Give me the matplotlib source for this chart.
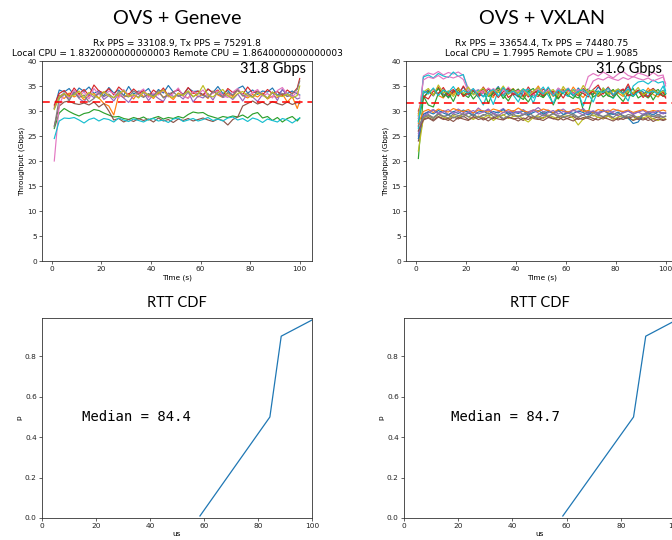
import matplotlib
matplotlib.use("Agg")
import matplotlib.pyplot as plt

# time axis of the iperf runs (sampled every 2 s)
TIME_S = list(range(1, 100, 2)) + [100]

# ---- OVS + Geneve, per-stream throughput (Gbps) ----
GEN_BLUE = [30.5, 34.2, 33.8, 34.5, 33.2, 34.6, 33.9, 34.8, 33.5, 34.1,
            33.0, 34.7, 33.6, 34.2, 33.1, 34.9, 33.4, 34.0, 33.7, 34.5,
            32.9, 34.3, 33.6, 35.1, 33.8, 34.2, 33.3, 34.6, 33.9, 34.0,
            33.2, 34.4, 33.7, 34.9, 33.5, 34.1, 33.0, 34.5, 35.0, 33.6,
            34.2, 33.3, 34.0, 33.8, 34.6, 33.1, 34.2, 33.5, 34.0, 33.4,
            33.2]
GEN_ORANGE = [30.8, 33.1, 32.5, 33.6, 32.8, 33.4, 32.2, 33.0, 33.5, 32.6,
              31.5, 31.0, 29.2, 33.2, 32.7, 33.5, 32.4, 33.8, 32.9, 33.3,
              32.5, 33.7, 32.8, 33.1, 32.3, 33.6, 33.0, 32.6, 33.9, 32.8,
              33.4, 32.5, 34.0, 33.2, 32.7, 33.5, 32.9, 34.2, 33.1, 32.6,
              33.3, 32.8, 33.6, 32.4, 33.0, 32.7, 33.4, 31.8, 32.9, 30.5,
              32.0]
GEN_GREEN = [26.5, 29.6, 30.5, 29.9, 29.4, 29.0, 29.5, 29.7, 30.3, 30.1,
             29.6, 29.2, 28.8, 28.9, 28.5, 28.3, 28.7, 28.4, 28.8, 28.2,
             28.6, 28.9, 28.4, 28.7, 28.5, 28.9, 28.6, 29.3, 29.8, 29.6,
             29.7, 29.1, 28.8, 28.5, 28.9, 28.7, 29.0, 28.8, 29.2, 28.6,
             29.4, 29.7, 28.6, 28.9, 28.1, 28.7, 27.8, 28.5, 28.9, 28.0,
             28.6]
GEN_RED = [31.2, 33.5, 34.1, 33.0, 34.6, 33.4, 34.3, 33.1, 35.2, 34.0,
           33.6, 34.5, 33.2, 34.8, 33.9, 33.3, 34.4, 33.5, 34.1, 32.9,
           34.2, 33.4, 34.6, 33.0, 33.8, 34.3, 33.2, 34.7, 33.5, 34.0,
           33.1, 34.4, 33.6, 34.2, 33.0, 34.5, 33.7, 34.1, 33.3, 34.8,
           33.6, 34.0, 33.2, 34.3, 33.5, 33.9, 33.1, 34.2, 33.4, 34.6,
           36.5]
GEN_PURPLE = [30.5, 32.9, 33.6, 32.2, 33.8, 32.5, 31.8, 33.4, 32.7, 33.9,
              32.3, 33.1, 32.0, 33.5, 32.6, 31.7, 33.2, 32.8, 33.7, 32.1,
              33.3, 32.5, 31.9, 33.6, 32.9, 33.2, 32.4, 33.8, 31.8, 33.0,
              32.6, 33.5, 32.2, 33.9, 32.7, 33.1, 32.3, 33.4, 32.0, 33.6,
              32.8, 31.9, 33.3, 32.5, 33.7, 32.1, 34.4, 32.9, 33.2, 32.4,
              32.6]
GEN_BROWN = [27.0, 31.0, 31.8, 32.0, 31.5, 31.3, 31.6, 31.2, 31.8, 30.8,
             31.5, 30.0, 28.2, 28.5, 27.8, 28.3, 27.9, 28.5, 28.1, 28.4,
             27.8, 28.6, 28.0, 28.3, 27.7, 28.4, 28.1, 28.5, 28.0, 28.3,
             28.6, 28.2, 27.9, 28.4, 28.1, 27.2, 28.3, 28.8, 31.0, 31.5,
             32.0, 31.4, 31.8, 31.2, 31.9, 31.5, 31.2, 31.8, 31.3, 31.7,
             31.5]
GEN_PINK = [20.0, 31.2, 33.5, 32.6, 34.2, 33.0, 33.8, 32.4, 34.5, 33.3,
            32.8, 34.0, 33.5, 32.6, 34.3, 33.1, 32.9, 33.7, 34.4, 32.7,
            33.6, 33.2, 34.1, 32.8, 33.5, 34.6, 33.0, 32.5, 33.9, 33.4,
            34.2, 32.9, 33.6, 34.0, 33.1, 32.7, 33.8, 34.5, 33.2, 32.9,
            33.7, 34.3, 33.0, 33.5, 32.6, 34.1, 34.7, 33.3, 32.8, 33.9,
            33.0]
GEN_GRAY = [26.8, 32.5, 33.4, 32.1, 33.8, 32.7, 33.2, 31.8, 32.5, 33.6,
            32.9, 33.4, 32.6, 33.9, 33.1, 32.8, 34.0, 33.3, 32.7, 33.5,
            33.0, 34.1, 32.6, 33.4, 33.8, 32.9, 33.3, 34.0, 32.8, 33.6,
            33.1, 32.7, 33.9, 33.4, 32.9, 33.7, 33.2, 34.2, 33.0, 33.5,
            32.8, 33.9, 33.3, 32.6, 33.8, 33.1, 33.5, 32.9, 33.6, 34.3,
            36.0]
GEN_OLIVE = [30.3, 32.8, 33.5, 32.9, 33.2, 34.0, 32.6, 33.7, 33.1, 32.5,
             33.9, 33.0, 32.7, 33.4, 34.1, 32.9, 33.3, 32.6, 33.8, 33.2,
             32.8, 33.6, 34.2, 33.0, 32.7, 33.5, 33.1, 34.0, 32.9, 33.4,
             35.1, 33.2, 32.8, 33.7, 34.3, 33.0, 32.6, 33.5, 33.9, 33.1,
             32.7, 33.6, 33.2, 32.5, 33.8, 33.0, 32.9, 33.4, 32.6, 33.1,
             35.0]
GEN_CYAN = [24.5, 28.0, 28.6, 28.5, 28.7, 28.2, 27.6, 28.3, 28.6, 28.0,
            28.5, 28.3, 27.8, 28.6, 28.2, 27.9, 28.4, 28.1, 27.8, 28.3,
            28.5, 28.0, 28.2, 27.7, 28.4, 28.6, 27.9, 28.2, 28.5, 28.0,
            28.3, 28.7, 28.1, 28.4, 28.0, 28.6, 28.8, 28.2, 28.5, 27.9,
            28.6, 28.3, 27.7, 28.4, 28.1, 27.8, 28.5, 28.2, 27.6, 28.3,
            28.6]

# ---- OVS + VXLAN, per-stream throughput (Gbps) ----
VX_01 = [29.0, 33.5, 34.2, 33.0, 34.6, 33.4, 32.8, 34.1, 33.6, 34.8,
         33.2, 34.0, 33.5, 32.9, 34.4, 33.7, 34.9, 33.1, 34.2, 33.6,
         32.8, 34.3, 33.9, 33.2, 34.7, 33.4, 34.0, 33.1, 34.5, 33.8,
         34.2, 33.0, 34.6, 33.5, 34.1, 33.3, 34.8, 33.7, 34.0, 33.2,
         34.4, 33.6, 34.9, 33.1, 34.2, 33.8, 32.9, 34.5, 33.6, 34.1,
         33.5]
VX_02 = [28.5, 32.8, 33.6, 34.4, 33.1, 32.6, 34.0, 33.3, 34.7, 32.9,
         33.8, 34.3, 33.0, 34.1, 33.5, 32.7, 34.6, 33.2, 33.9, 34.5,
         33.1, 32.8, 34.2, 33.6, 35.0, 33.3, 34.0, 32.9, 33.7, 34.4,
         33.0, 34.8, 33.5, 32.7, 34.1, 33.8, 33.2, 34.5, 33.0, 34.2,
         33.6, 32.9, 34.3, 33.4, 34.0, 33.1, 34.6, 33.3, 32.8, 33.9,
         33.2]
VX_03 = [20.5, 33.0, 31.2, 30.8, 33.5, 34.2, 32.6, 33.8, 34.5, 33.1,
         34.0, 32.4, 33.6, 34.3, 31.5, 33.9, 34.6, 33.2, 32.0, 33.7,
         34.4, 33.0, 31.8, 33.5, 34.1, 32.7, 33.9, 31.2, 33.4, 34.2,
         33.1, 32.5, 33.8, 30.2, 29.6, 33.5, 34.0, 32.8, 33.6, 34.3,
         33.0, 31.9, 33.7, 34.5, 32.6, 33.3, 34.0, 32.2, 33.8, 32.9,
         33.4]
VX_04 = [29.5, 32.5, 34.0, 33.2, 34.8, 32.9, 33.6, 34.3, 33.0, 35.0,
         33.4, 34.1, 32.8, 33.7, 34.5, 33.1, 33.9, 34.6, 32.7, 33.5,
         34.2, 33.0, 34.8, 33.3, 32.9, 34.4, 33.6, 34.0, 32.6, 33.8,
         34.5, 33.2, 34.1, 33.5, 32.8, 34.3, 35.2, 33.4, 34.7, 33.0,
         34.2, 33.6, 35.4, 33.1, 34.0, 32.7, 33.9, 34.5, 33.2, 33.7,
         32.6]
VX_05 = [25.0, 29.4, 29.9, 30.3, 29.6, 30.1, 29.3, 29.8, 30.4, 29.7,
         30.0, 29.5, 30.6, 29.8, 30.2, 29.4, 29.9, 30.5, 29.6, 30.1,
         29.7, 30.3, 29.5, 30.0, 30.7, 29.8, 30.2, 29.4, 29.9, 30.4,
         29.6, 30.1, 29.8, 30.5, 29.5, 30.0, 29.7, 30.3, 29.4, 29.9,
         30.2, 29.6, 30.0, 29.3, 29.8, 30.1, 29.5, 29.9, 29.2, 29.7,
         29.5]
VX_06 = [24.0, 28.4, 28.7, 28.2, 28.9, 28.5, 28.1, 28.8, 28.4, 29.0,
         28.3, 28.6, 28.9, 28.2, 28.7, 28.5, 29.1, 28.3, 28.8, 28.4,
         28.6, 28.1, 28.9, 28.5, 28.3, 28.7, 29.0, 28.4, 28.8, 28.2,
         28.6, 28.9, 28.3, 28.7, 28.5, 28.1, 28.8, 28.4, 29.0, 28.6,
         28.2, 28.7, 28.5, 28.9, 28.3, 28.6, 28.1, 28.5, 28.8, 28.2,
         28.4]
VX_07 = [27.0, 37.0, 37.6, 37.3, 37.9, 37.2, 37.7, 37.4, 37.8, 37.1,
         34.5, 33.8, 34.3, 33.5, 34.6, 33.9, 34.2, 33.4, 34.8, 33.7,
         34.1, 33.6, 34.4, 33.2, 34.7, 33.8, 34.0, 33.5, 34.3, 33.9,
         34.6, 33.3, 34.2, 33.8, 36.9, 37.5, 37.0, 37.8, 37.2, 36.6,
         37.4, 37.9, 37.1, 36.8, 37.6, 37.3, 36.9, 37.7, 37.0, 37.2,
         35.0]
VX_08 = [26.0, 28.9, 29.3, 28.7, 29.5, 29.0, 28.6, 29.4, 29.1, 28.8,
         29.6, 29.2, 28.7, 29.3, 29.0, 29.5, 28.8, 29.2, 29.7, 29.0,
         28.9, 29.4, 29.1, 28.6, 29.3, 29.8, 29.0, 29.5, 28.8, 29.2,
         29.6, 29.1, 28.7, 29.3, 29.9, 29.0, 29.4, 28.8, 29.2, 29.6,
         29.0, 28.7, 29.3, 29.1, 28.6, 29.4, 29.0, 28.9, 29.3, 28.8,
         29.0]
VX_09 = [22.0, 28.6, 29.0, 28.5, 29.3, 28.8, 28.4, 29.1, 28.7, 29.4,
         28.9, 28.3, 29.0, 28.6, 29.2, 28.1, 28.8, 29.3, 28.5, 28.9,
         29.1, 28.4, 27.8, 28.7, 29.0, 28.5, 29.2, 28.8, 28.3, 28.9,
         29.1, 28.6, 27.2, 28.4, 28.9, 29.2, 28.7, 28.5, 29.0, 28.3,
         28.8, 29.1, 28.5, 28.2, 28.9, 28.6, 29.0, 28.4, 28.1, 28.7,
         28.3]
VX_10 = [26.5, 36.8, 37.2, 36.6, 37.5, 37.0, 36.7, 37.8, 36.9, 37.3,
         34.0, 33.4, 34.2, 32.8, 33.6, 31.3, 34.1, 33.0, 34.5, 33.2,
         31.8, 33.9, 34.4, 32.6, 33.7, 34.8, 33.1, 31.5, 34.0, 33.5,
         32.9, 34.3, 33.6, 31.0, 33.8, 34.2, 33.0, 34.6, 33.3, 32.5,
         34.0, 33.4, 32.0, 35.0, 35.8, 36.0, 35.4, 36.2, 35.6, 35.9,
         34.0]
VX_11 = [24.5, 29.3, 29.8, 29.4, 30.1, 29.6, 29.2, 29.9, 29.5, 30.2,
         29.7, 29.1, 29.8, 30.0, 29.4, 29.9, 29.6, 30.3, 29.3, 29.8,
         29.5, 30.0, 29.2, 29.7, 30.1, 29.4, 29.9, 29.6, 30.2, 29.3,
         29.8, 29.5, 30.0, 29.7, 29.2, 29.9, 29.4, 30.1, 29.6, 29.3,
         29.8, 29.0, 28.6, 27.5, 27.8, 29.3, 29.7, 29.2, 29.9, 29.5,
         29.6]
VX_12 = [27.5, 29.9, 30.3, 29.7, 30.4, 30.0, 29.8, 30.5, 30.1, 29.9,
         30.3, 29.6, 30.2, 30.0, 29.8, 30.4, 30.1, 29.7, 30.3, 29.9,
         30.6, 30.0, 29.8, 30.2, 29.9, 30.4, 30.1, 29.7, 30.3, 30.0,
         29.8, 30.2, 30.5, 29.9, 30.1, 29.7, 30.3, 30.0, 29.8, 30.4,
         30.1, 29.9, 30.2, 29.7, 30.0, 30.3, 29.8, 30.1, 29.9, 30.2,
         30.0]
VX_13 = [28.0, 32.6, 33.9, 33.2, 34.5, 32.8, 33.7, 31.9, 34.2, 33.4,
         32.7, 34.0, 33.3, 34.6, 32.9, 33.5, 34.1, 32.5, 33.8, 34.4,
         33.0, 32.3, 33.9, 34.5, 33.2, 32.7, 34.0, 33.6, 32.4, 33.8,
         34.3, 33.1, 32.6, 33.9, 34.4, 32.8, 33.5, 34.1, 33.0, 32.7,
         33.8, 34.2, 33.4, 32.9, 34.0, 33.3, 32.6, 33.7, 34.3, 33.0,
         33.5]
VX_14 = [30.0, 33.0, 32.4, 34.0, 33.5, 34.7, 33.1, 33.8, 34.4, 32.9,
         33.6, 34.2, 33.0, 34.8, 33.3, 34.0, 32.7, 33.9, 34.5, 33.2,
         33.7, 34.3, 32.8, 33.5, 34.1, 33.0, 34.6, 33.4, 33.9, 32.6,
         34.2, 33.7, 33.1, 34.5, 33.3, 34.0, 32.9, 33.6, 34.8, 33.2,
         33.9, 34.4, 33.0, 33.7, 34.1, 33.4, 32.8, 34.3, 33.5, 33.0,
         32.8]
VX_15 = [25.5, 29.0, 29.6, 30.2, 29.4, 29.8, 30.3, 29.5, 29.9, 29.2,
         29.7, 30.1, 29.4, 29.8, 30.4, 29.6, 29.1, 29.7, 30.0, 29.5,
         29.9, 29.3, 29.8, 30.2, 29.6, 29.0, 29.7, 30.1, 29.4, 29.9,
         29.5, 30.3, 29.7, 29.2, 29.8, 30.0, 29.4, 29.9, 30.2, 29.6,
         29.1, 29.7, 30.0, 29.5, 29.8, 29.3, 29.9, 29.6, 30.1, 29.4,
         29.7]
VX_16 = [26.0, 28.2, 28.6, 28.0, 28.8, 28.3, 28.5, 27.9, 28.7, 28.4,
         28.1, 28.9, 28.3, 28.6, 28.0, 28.7, 28.4, 28.2, 28.8, 28.5,
         28.0, 28.6, 28.3, 28.9, 28.4, 28.1, 28.7, 28.5, 28.2, 28.8,
         28.4, 28.0, 28.6, 28.3, 28.9, 28.5, 28.2, 28.7, 28.4, 28.0,
         28.6, 28.3, 28.8, 28.1, 28.5, 28.2, 28.7, 27.9, 28.4, 28.1,
         28.3]
VX_17 = [28.5, 36.2, 36.8, 36.5, 37.1, 36.4, 36.9, 36.6, 37.0, 36.3,
         33.9, 34.4, 33.6, 34.1, 33.3, 34.5, 33.8, 34.2, 33.5, 34.0,
         33.7, 34.3, 33.1, 33.9, 34.4, 33.6, 34.1, 33.2, 34.6, 33.8,
         34.0, 33.5, 34.3, 33.7, 34.1, 36.0, 36.5, 36.2, 36.8, 36.4,
         36.1, 36.7, 36.3, 36.9, 36.5, 36.2, 36.6, 36.0, 36.4, 36.8,
         35.5]
VX_18 = [27.0, 28.7, 29.1, 28.5, 29.4, 28.9, 29.2, 28.6, 29.0, 29.5,
         28.8, 29.3, 28.7, 29.1, 29.6, 28.9, 29.2, 28.5, 29.0, 29.4,
         28.8, 29.2, 29.7, 29.0, 28.6, 29.3, 28.9, 29.5, 29.1, 28.7,
         29.0, 29.4, 28.8, 29.2, 28.6, 29.6, 29.1, 28.9, 29.3, 28.7,
         29.5, 29.0, 28.8, 29.2, 28.6, 29.1, 29.4, 28.9, 29.0, 28.7,
         28.9]
VX_19 = [29.2, 33.8, 34.5, 33.1, 35.2, 33.6, 34.0, 32.9, 34.4, 33.5,
         34.8, 33.2, 33.9, 34.6, 33.0, 34.2, 33.7, 35.0, 33.3, 34.1,
         33.6, 34.5, 33.1, 34.0, 34.7, 33.4, 33.8, 34.3, 33.0, 34.9,
         33.5, 34.1, 33.3, 35.1, 33.7, 34.2, 33.0, 34.6, 33.4, 33.9,
         34.4, 33.1, 34.0, 33.6, 34.7, 33.2, 33.8, 34.3, 33.5, 34.0,
         33.6]
VX_20 = [27.8, 34.0, 33.4, 34.6, 33.1, 34.2, 33.7, 34.9, 33.3, 34.1,
         33.6, 34.5, 32.9, 31.2, 33.8, 34.3, 33.0, 34.7, 33.5, 34.0,
         33.2, 34.4, 33.7, 31.6, 34.1, 33.4, 34.8, 33.0, 34.2, 33.6,
         34.5, 33.1, 33.9, 34.3, 33.4, 31.8, 34.0, 33.7, 34.6, 33.2,
         34.1, 33.5, 34.4, 33.0, 33.8, 34.3, 33.6, 34.0, 33.3, 35.0,
         33.5]

GENEVE_STREAMS = [GEN_BLUE, GEN_ORANGE, GEN_GREEN, GEN_RED, GEN_PURPLE,
                  GEN_BROWN, GEN_PINK, GEN_GRAY, GEN_OLIVE, GEN_CYAN]
VXLAN_STREAMS = [VX_01, VX_02, VX_03, VX_04, VX_05, VX_06, VX_07, VX_08, VX_09, VX_10,
                 VX_11, VX_12, VX_13, VX_14, VX_15, VX_16, VX_17, VX_18, VX_19, VX_20]

MEAN_GBPS = [31.8, 31.6]
TITLES = ["OVS + Geneve", "OVS + VXLAN"]
SUBTITLES = ["Rx PPS = 33108.9, Tx PPS = 75291.8\n"
             "Local CPU = 1.8320000000000003 Remote CPU = 1.8640000000000003",
             "Rx PPS = 33654.4, Tx PPS = 74480.75\n"
             "Local CPU = 1.7995 Remote CPU = 1.9085"]

# RTT CDF (us vs p)
RTT_GENEVE_US = [58.5, 84.4, 88.6, 100.0]
RTT_VXLAN_US = [58.6, 84.7, 89.2, 100.5]
RTT_P = [0.01, 0.5, 0.9, 0.98]
MEDIANS = [84.4, 84.7]

W, H = 672, 540
fig = plt.figure(figsize=(W / 100, H / 100), dpi=100)


def px_box(x0, y0, x1, y1):
    # pixel box -> figure fraction [left, bottom, width, height]
    return [x0 / W, 1 - y1 / H, (x1 - x0) / W, (y1 - y0) / H]


def style(ax):
    ax.tick_params(labelsize=5.3, length=2.2, width=0.5, pad=1.5, colors="#222")
    for s in ax.spines.values():
        s.set_linewidth(0.6)
        s.set_color("#333")


top_boxes = [px_box(42, 61, 312, 261), px_box(406, 61, 678, 261)]
bot_boxes = [px_box(42, 318, 312, 518), px_box(404, 318, 675, 518)]
centers = [177, 542]
gbps_right = [0.978, 0.94]
median_x = [14.8, 17.2]
rtts = [RTT_GENEVE_US, RTT_VXLAN_US]
streams = [GENEVE_STREAMS, VXLAN_STREAMS]

for i in range(2):
    ax = fig.add_axes(top_boxes[i])
    for s in streams[i]:
        ax.plot(TIME_S, s, lw=0.85)
    ax.axhline(MEAN_GBPS[i], color="red", ls=(0, (4, 2.5)), lw=1.4, alpha=0.8)
    ax.set_ylim(0, 40)
    ax.set_xlim(-3.95, 104.95)
    ax.set_xlabel("Time (s)", fontsize=5.3, labelpad=1.5)
    ax.set_ylabel("Throughput (Gbps)", fontsize=5.3, labelpad=2)
    ax.set_title(SUBTITLES[i], fontsize=6.5, pad=3.5, linespacing=1.1)
    ax.text(gbps_right[i], 0.995, "%.1f Gbps" % MEAN_GBPS[i], transform=ax.transAxes,
            ha="right", va="top", fontsize=10.5, family="Lato")
    style(ax)
    fig.text(centers[i] / W, 1 - 19 / H, TITLES[i], ha="center", va="center",
             fontsize=14.2, family="Lato")

    bx = fig.add_axes(bot_boxes[i])
    bx.plot(rtts[i], RTT_P, lw=0.9)
    bx.set_xlim(0, 100)
    bx.set_ylim(0, 0.99)
    bx.set_xlabel("us", fontsize=5.3, labelpad=1.5)
    bx.set_ylabel("p", fontsize=5.3, labelpad=2)
    bx.set_title("RTT CDF", fontsize=10.5, family="Lato", pad=8)
    bx.text(median_x[i], 0.5, "Median = %.1f" % MEDIANS[i], va="center",
            fontsize=10, family="DejaVu Sans Mono")
    style(bx)

fig.savefig("out.png", dpi=100)
